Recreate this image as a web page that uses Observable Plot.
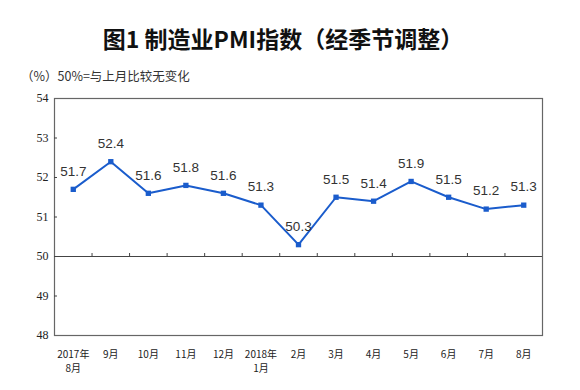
<!DOCTYPE html>
<html><head><meta charset="utf-8">
<script src="https://cdn.jsdelivr.net/npm/d3@7"></script>
<script src="https://cdn.jsdelivr.net/npm/@observablehq/plot@0.6"></script>
<style>
html,body{margin:0;padding:0;background:#fff;}
#wrap{position:relative;width:580px;height:390px;overflow:hidden;}
#title{position:absolute;left:0;width:566px;top:22px;text-align:center;font-family:"Noto Sans CJK SC";font-weight:bold;font-size:23px;color:#111;line-height:32px;}
#sub{position:absolute;left:21px;top:67px;font-family:"Noto Sans CJK SC";font-size:12.5px;color:#333;line-height:18px;}
#chart{position:absolute;left:0;top:0;}
</style></head>
<body><div id="wrap"><div id="chart"></div><div id="title">图1 制造业PMI指数（经季节调整）</div><div id="sub">（%）50%=与上月比较无变化</div></div>
<script>
const months = ["2017年\n8月","9月","10月","11月","12月","2018年\n1月","2月","3月","4月","5月","6月","7月","8月"];
const pmi = [51.7, 52.4, 51.6, 51.8, 51.6, 51.3, 50.3, 51.5, 51.4, 51.9, 51.5, 51.2, 51.3];
const yTicks = [48, 49, 50, 51, 52, 53, 54];
const data = months.map((m, i) => ({i, m, v: pmi[i]}));
const idx = months.map((m, i) => i);
const bounds = idx.slice(1).map(i => i - 0.5);
const blue = "#1a5ccc";

const chart = Plot.plot({
  width: 580, height: 390,
  marginLeft: 54, marginRight: 38, marginTop: 98, marginBottom: 55,
  style: {background: "#fff", overflow: "visible"},
  x: {domain: [-0.5, months.length - 0.5], axis: null, label: null},
  y: {domain: [48, 54], axis: null, label: null},
  marks: [
    Plot.frame({stroke: "#666", strokeWidth: 1.2}),
    Plot.ruleY([50], {stroke: "#444", strokeWidth: 1}),
    Plot.ruleX(bounds, {y1: 50, y2: 50 + 3 / 39.5, stroke: "#444"}),
    Plot.ruleY(yTicks.filter(t => t !== 48 && t !== 50 && t !== 54), {x1: -0.5, x2: -0.5 + 3 / 37.5, stroke: "#444"}),
    Plot.axisY(yTicks, {anchor: "left", label: null, tickSize: 0, tickPadding: 6, fontSize: 12, fontFamily: "Liberation Serif", fill: "#222"}),
    Plot.axisX(idx, {anchor: "bottom", label: null, tickSize: 0, tickPadding: 12, fontSize: 10, fontFamily: "Noto Sans CJK SC", fill: "#222", lineHeight: 1.45, tickFormat: i => months[i]}),
    Plot.line(data, {x: "i", y: "v", stroke: blue, strokeWidth: 2}),
    Plot.dot(data, {x: "i", y: "v", symbol: "square", r: 3, fill: blue}),
    Plot.text(data, {x: "i", y: "v", text: d => d.v.toFixed(1), dy: -18, fontSize: 13.5, fontFamily: "Liberation Sans", fill: "#333"})
  ]
});
document.getElementById("chart").appendChild(chart);
</script></body></html>
